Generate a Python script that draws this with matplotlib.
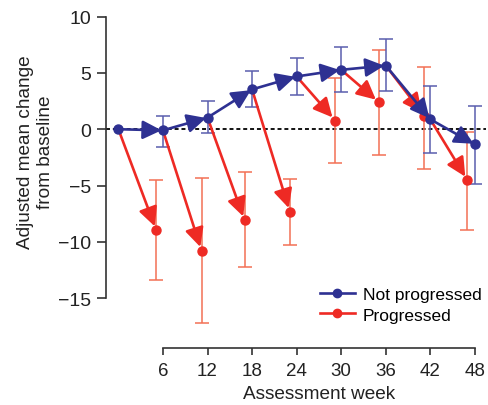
import matplotlib
matplotlib.use("Agg")
import matplotlib.pyplot as plt
from matplotlib.patches import ArrowStyle

plt.rcParams['font.family'] = ['Liberation Sans', 'DejaVu Sans']

# ---- data ----
weeks = [0, 6, 12, 18, 24, 30, 36, 42, 48]
np_mean = [0.0, -0.1, 1.03, 3.53, 4.68, 5.27, 5.65, 0.88, -1.35]
np_upper = [None, 1.2, 2.5, 5.2, 6.33, 7.27, 8.0, 3.83, 2.09]
np_lower = [None, -1.55, -0.35, 1.98, 3.0, 3.33, 3.35, -2.08, -4.85]

pr_weeks = [5.1, 11.2, 17.0, 23.1, 29.2, 35.1, 41.2, 47.0]
pr_mean = [-8.97, -10.8, -8.09, -7.35, 0.77, 2.38, 1.18, -4.53]
pr_upper = [-4.5, -4.35, -3.82, -4.41, 4.54, 7.03, 5.53, -0.23]
pr_lower = [-13.36, -17.15, -12.2, -10.24, -3.0, -2.26, -3.5, -8.9]

xticks = [6, 12, 18, 24, 30, 36, 42, 48]
yticks = [-15, -10, -5, 0, 5, 10]

BLUE = '#2e3192'
BLUE_EB = '#5a5eae'
RED = '#ee2a24'
RED_EB = '#f37055'
AX = '#333333'
TXT = '#222222'

fig = plt.figure(figsize=(4.89, 4.06), dpi=100)
W, H = 489, 406
ax = fig.add_axes([106 / W, (H - 349) / H, 380 / W, (349 - 17.5) / H])
ax.set_xlim(-1.67, 49.5)
ax.set_ylim(-19.41, 10)

# zero reference line
ax.axhline(0, color='black', lw=1.3, ls=(0, (2.2, 1.6)), zorder=1)

# error bars
pr_err = [[m - lo for m, lo in zip(pr_mean, pr_lower)],
          [hi - m for m, hi in zip(pr_mean, pr_upper)]]
ax.errorbar(pr_weeks, pr_mean, yerr=pr_err, fmt='none', ecolor=RED_EB,
            elinewidth=1.1, capsize=5, capthick=1.1, zorder=2)
np_err = [[m - lo for m, lo in zip(np_mean[1:], np_lower[1:])],
          [hi - m for m, hi in zip(np_mean[1:], np_upper[1:])]]
ax.errorbar(weeks[1:], np_mean[1:], yerr=np_err, fmt='none', ecolor=BLUE_EB,
            elinewidth=1.1, capsize=5, capthick=1.1, zorder=3)

head = ArrowStyle('-|>', head_length=0.85, head_width=0.42)

# red arrows: from previous blue point to progressed point
for i in range(len(pr_weeks)):
    ax.annotate('', xy=(pr_weeks[i], pr_mean[i]), xytext=(weeks[i], np_mean[i]),
                arrowprops=dict(arrowstyle=head, color=RED, lw=1.9,
                                mutation_scale=13.5, shrinkA=0, shrinkB=3),
                zorder=4)
ax.plot(pr_weeks, pr_mean, 'o', color=RED, ms=6.5, zorder=5)

# blue path
for i in range(1, len(weeks)):
    ax.annotate('', xy=(weeks[i], np_mean[i]), xytext=(weeks[i - 1], np_mean[i - 1]),
                arrowprops=dict(arrowstyle=head, color=BLUE, lw=1.9,
                                mutation_scale=13.5, shrinkA=0, shrinkB=1),
                zorder=6)
ax.plot(weeks, np_mean, 'o', color=BLUE, ms=6.5, zorder=7)

# legend proxies
ax.plot([], [], '-o', color=BLUE, lw=1.9, ms=6, label='Not progressed')
ax.plot([], [], '-o', color=RED, lw=1.9, ms=6, label='Progressed')
ax.legend(loc='upper left', bbox_to_anchor=(320 / W, 1 - 288 / H),
          bbox_transform=fig.transFigure, frameon=False,
          fontsize=12.5, handlelength=2.0, handletextpad=0.45,
          labelspacing=0.3, borderaxespad=0, borderpad=0)

# spines
for s in ['top', 'right']:
    ax.spines[s].set_visible(False)
ax.spines['left'].set_bounds(-15, 10)
ax.spines['bottom'].set_bounds(6, 48)
for s in ['left', 'bottom']:
    ax.spines[s].set_color(AX)
    ax.spines[s].set_linewidth(1.2)

ax.set_xticks(xticks)
ax.set_yticks(yticks)
ax.set_yticklabels([str(v).replace('-', '\u2212') for v in yticks])
ax.tick_params(axis='y', length=6.5, width=1.2, color=AX, labelsize=14, pad=4, labelcolor=TXT)
ax.tick_params(axis='x', length=5, width=1.2, color=AX, labelsize=13.5, pad=5, labelcolor=TXT)

ax.set_xlabel('Assessment week', fontsize=13.7, color=TXT)
ax.xaxis.set_label_coords((319 - 106) / 380, (349 - 386) / 331.5)
ax.set_ylabel('Adjusted mean change\nfrom baseline', fontsize=13.7, color=TXT,
              linespacing=1.2)
ax.yaxis.set_label_coords((54 - 106) / 380, (349 - 152) / 331.5)

fig.savefig('out.png', dpi=100)
